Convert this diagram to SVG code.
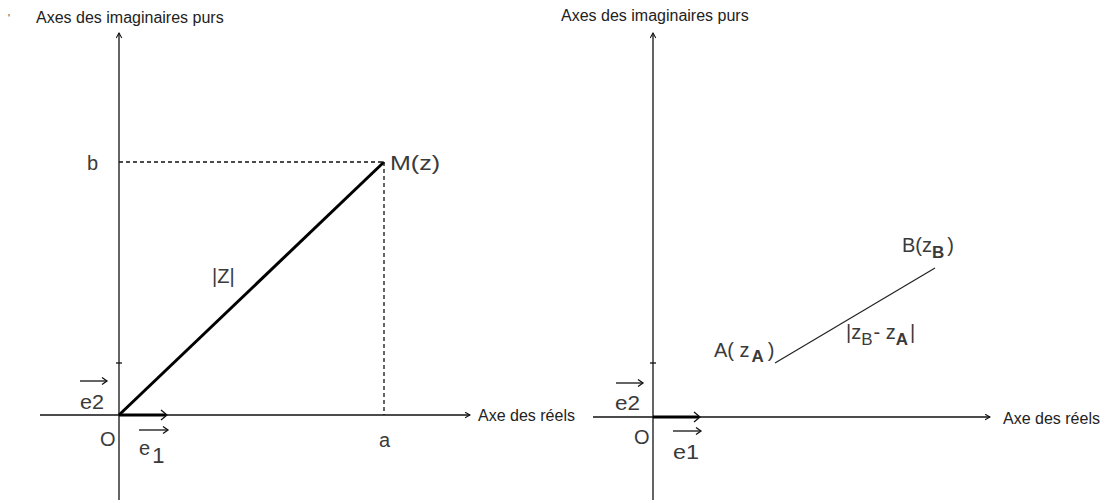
<svg xmlns="http://www.w3.org/2000/svg" width="1111" height="503" viewBox="0 0 1111 503">
<defs>
<style>
.ax{stroke:#111;stroke-width:1.3;fill:none}
.thick{stroke:#000;stroke-width:3;fill:none}
.dash{stroke:#111;stroke-width:1.3;stroke-dasharray:4 3;fill:none}
.t{font-family:"Liberation Sans",Arial,sans-serif;fill:#3a3a3a}
.s{font-size:16px;fill:#222}
.m{font-size:20px}
.sub{font-size:17px;font-weight:bold}
.subn{font-size:17px}
</style>
<marker id="ar" viewBox="0 0 10 10" refX="9" refY="5" markerWidth="7" markerHeight="7" markerUnits="userSpaceOnUse" orient="auto">
<path d="M2,1 L9,5 L2,9" fill="none" stroke="#111" stroke-width="1.5"/>
</marker>
</defs>
<rect width="1111" height="503" fill="#fff"/>
<g id="connectors">
<line class="ax" x1="119" y1="500" x2="119" y2="33" marker-end="url(#ar)"/>
<line class="ax" x1="40" y1="415" x2="470" y2="415" marker-end="url(#ar)"/>
<line class="ax" x1="116" y1="363" x2="122" y2="363"/>
<line class="thick" x1="119" y1="415" x2="166" y2="415"/>
<path d="M161,410 L167,415 L161,420" class="ax"/>
<line class="thick" x1="119" y1="415" x2="384" y2="162"/>
<line class="dash" x1="119" y1="162" x2="384" y2="162"/>
<line class="dash" x1="384" y1="162" x2="384" y2="415"/>
<line class="ax" x1="653" y1="500" x2="653" y2="33" marker-end="url(#ar)"/>
<line class="ax" x1="593" y1="417" x2="990" y2="417" marker-end="url(#ar)"/>
<line class="ax" x1="650" y1="363" x2="656" y2="363"/>
<line class="thick" x1="653" y1="417" x2="699" y2="417"/>
<path d="M694,412 L700,417 L694,422" class="ax"/>
<line x1="775" y1="363" x2="935" y2="268" stroke="#222" stroke-width="1.2"/>
</g>
<g id="left-labels">
<text class="t s" x="36" y="23">Axes des imaginaires purs</text>
<text class="t" x="8" y="22" font-size="10">'</text>
<text class="t m" x="87" y="170">b</text>
<text class="t m" x="390" y="170" textLength="50" lengthAdjust="spacingAndGlyphs">M(z)</text>
<text class="t m" x="212" y="283">|Z|</text>
<text class="t m" x="379" y="447">a</text>
<text class="t m" x="100" y="446">O</text>
<text class="t s" x="478" y="421">Axe des réels</text>
<g id="e2-left"><line class="ax" x1="80" y1="381" x2="106" y2="381"/><path d="M102,377.5 L107,381 L102,384.5" class="ax"/><text class="t m" x="80" y="409" textLength="24" lengthAdjust="spacingAndGlyphs">e2</text></g>
<g id="e1-left"><line class="ax" x1="139" y1="430" x2="167" y2="430"/><path d="M163,426.5 L168,430 L163,433.5" class="ax"/><text class="t m" x="139" y="455">e<tspan dy="8" dx="2" font-size="22">1</tspan></text></g>
</g>
<g id="right-labels">
<text class="t s" x="561" y="21">Axes des imaginaires purs</text>
<text class="t s" x="1003" y="424">Axe des réels</text>
<text class="t m" x="634" y="444">O</text>
<g id="e2-right"><line class="ax" x1="616" y1="383" x2="642" y2="383"/><path d="M638,379.5 L643,383 L638,386.5" class="ax"/><text class="t m" x="615" y="410" textLength="25" lengthAdjust="spacingAndGlyphs">e2</text></g>
<g id="e1-right"><line class="ax" x1="673" y1="431" x2="700" y2="431"/><path d="M696,427.5 L701,431 L696,434.5" class="ax"/><text class="t m" x="673" y="459" textLength="26" lengthAdjust="spacingAndGlyphs">e1</text></g>
<g id="A"><text class="t m" x="714" y="357">A( z<tspan class="sub" dy="5" dx="2">A</tspan><tspan dy="-5" dx="4">)</tspan></text></g>
<g id="B"><text class="t m" x="902" y="252">B(z<tspan class="sub" dy="6">B</tspan><tspan dy="-6" dx="3">)</tspan></text></g>
<g id="AB"><text class="t m" x="846" y="339">|z<tspan class="subn" dy="6">B</tspan><tspan dy="-6" dx="1">- z</tspan><tspan class="sub" dy="6">A</tspan><tspan dy="-6" dx="2">|</tspan></text></g>
</g>
</svg>
